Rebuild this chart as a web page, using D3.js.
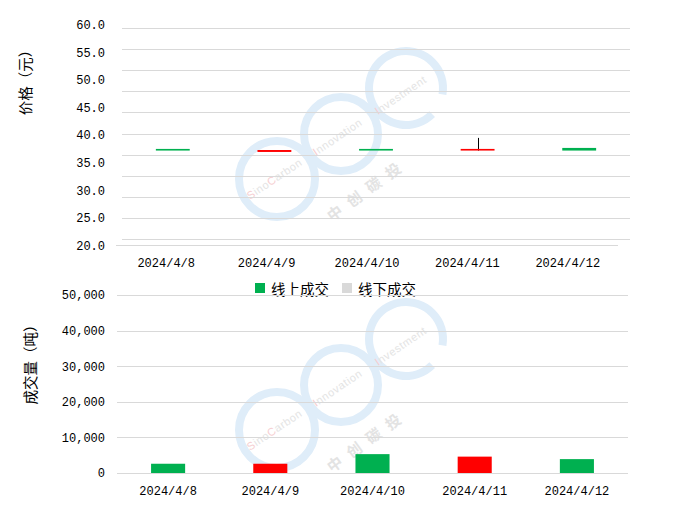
<!DOCTYPE html>
<html><head><meta charset="utf-8">
<script src="https://cdn.jsdelivr.net/npm/d3@7/dist/d3.min.js"></script>
<style>
html,body{margin:0;padding:0;background:#fff;}
svg{display:block;}
</style></head>
<body>
<svg id="chart" width="678" height="511"></svg>
<script>
// ---- data ----
const dates = ["2024/4/8", "2024/4/9", "2024/4/10", "2024/4/11", "2024/4/12"];
const openPrice  = [37.5, 36.95, 37.5, 37.2, 37.68];
const closePrice = [37.2, 37.3, 37.2, 37.5, 37.2];
const highPrice  = [37.5, 37.3, 37.5, 39.5, 37.68];
const lowPrice   = [37.2, 36.95, 37.2, 37.2, 37.2];
const volume     = [2600, 2600, 5300, 4600, 3900];
const priceTicks = [20, 25, 30, 35, 40, 45, 50, 55, 60];
const volumeTicks = [0, 10000, 20000, 30000, 40000, 50000];
const legendLabels = ["线上成交", "线下成交"];
const priceTitle = "价格（元）";
const volumeTitle = "成交量（吨）";

// ---- styles ----
const GREEN = "#00b050", RED = "#ff0000", GRID = "#d9d9d9", LEG_GREY = "#d9d9d9";
const MONO = "'Liberation Mono', 'DejaVu Sans Mono', monospace";
const CJK = "'Noto Sans CJK SC', sans-serif";

const svg = d3.select("#chart");
svg.append("rect").attr("width", 678).attr("height", 511).attr("fill", "#fff");

// ---- watermark ----
function watermark(dy) {
  const g = svg.append("g").attr("transform", `translate(0,${dy})`);
  const ring = "#dfedf9";
  g.append("circle").attr("cx", 277).attr("cy", 179).attr("r", 38)
    .attr("fill", "none").attr("stroke", ring).attr("stroke-width", 8);
  g.append("circle").attr("cx", 341).attr("cy", 134).attr("r", 37)
    .attr("fill", "none").attr("stroke", ring).attr("stroke-width", 8);
  const arc = d3.arc().innerRadius(33).outerRadius(41)
    .startAngle(135 * Math.PI / 180).endAngle((100 + 360) * Math.PI / 180);
  g.append("path").attr("d", arc()).attr("transform", "translate(406,88)").attr("fill", ring);
  const wt = (txt, x, y, first) => {
    const t = g.append("text").attr("transform", `translate(${x},${y}) rotate(-34)`)
      .attr("font-family", "'Liberation Sans', Arial, sans-serif").attr("font-size", 11)
      .attr("letter-spacing", 0.6).attr("fill", "#e4e4e4");
    t.append("tspan").attr("fill", "#f6cfd2").text(txt[0]);
    if (first) {
      t.append("tspan").text(txt.slice(1, first));
      t.append("tspan").attr("fill", "#f6cfd2").text(txt[first]);
      t.append("tspan").text(txt.slice(first + 1));
    } else {
      t.append("tspan").text(txt.slice(1));
    }
  };
  wt("SinoCarbon", 250, 200, 4);
  wt("Innovation", 316, 156, 0);
  wt("Investment", 378, 115, 0);
  g.append("text").attr("transform", "translate(332,222) rotate(-36)")
    .attr("font-family", CJK).attr("font-size", 15).attr("font-weight", 700)
    .attr("letter-spacing", 9).attr("fill", "#e3e3e3").text("中创碳投");
}
watermark(0);
watermark(251);

// ================= PRICE CHART =================
const xCandle = d3.scaleBand().domain(dates).range([122, 630]).paddingInner(2 / 3).paddingOuter(1 / 3);
const xTopAxis = d3.scaleBand().domain(dates).range([116, 618]);
const yPrice = d3.scaleLinear().domain([20, 60]).range([245.3, 25]);
const gridTop = d3.scaleLinear().domain([0, 10]).range([238.7, 28.3]);

// gridlines
svg.append("g").selectAll("line").data(d3.range(11)).join("line")
  .attr("x1", 122).attr("x2", 630)
  .attr("y1", d => Math.round(gridTop(d)) + 0.5).attr("y2", d => Math.round(gridTop(d)) + 0.5)
  .attr("stroke", GRID).attr("stroke-width", 1);

// y axis labels
const yAxisTop = svg.append("g").attr("transform", "translate(105,0)")
  .call(d3.axisLeft(yPrice).tickValues(priceTicks).tickFormat(d3.format(".1f")).tickSize(0).tickPadding(0));
yAxisTop.select(".domain").remove();
yAxisTop.selectAll("text").attr("font-family", MONO).attr("font-size", 12).attr("fill", "#000");

// x axis
const xAxisTopG = svg.append("g").attr("transform", "translate(0,245.5)")
  .call(d3.axisBottom(xTopAxis).tickSize(0).tickPadding(13));
xAxisTopG.select(".domain").attr("stroke", GRID).attr("d", "M116,0H618");
xAxisTopG.selectAll("text").attr("font-family", MONO).attr("font-size", 12).attr("fill", "#000");

// candles
const idx = d3.range(dates.length);
const cg = svg.append("g");
cg.selectAll("line.wick").data(idx.filter(i => highPrice[i] > Math.max(openPrice[i], closePrice[i]) || lowPrice[i] < Math.min(openPrice[i], closePrice[i])))
  .join("line").attr("class", "wick")
  .attr("x1", i => Math.round(xCandle(dates[i]) + xCandle.bandwidth() / 2) + 0.5)
  .attr("x2", i => Math.round(xCandle(dates[i]) + xCandle.bandwidth() / 2) + 0.5)
  .attr("y1", i => yPrice(highPrice[i])).attr("y2", i => yPrice(lowPrice[i]))
  .attr("stroke", "#000").attr("stroke-width", 1);
cg.selectAll("rect").data(idx).join("rect")
  .attr("x", i => xCandle(dates[i]))
  .attr("width", xCandle.bandwidth())
  .attr("y", i => yPrice(Math.max(openPrice[i], closePrice[i])))
  .attr("height", i => Math.max(1.5, Math.abs(yPrice(openPrice[i]) - yPrice(closePrice[i]))))
  .attr("fill", i => closePrice[i] > openPrice[i] ? RED : GREEN);

// title
svg.append("text").attr("transform", "translate(24,79) rotate(-90)")
  .attr("text-anchor", "middle").attr("dominant-baseline", "central")
  .attr("font-family", CJK).attr("font-size", 14.5).attr("fill", "#000").text(priceTitle);

// ================= LEGEND =================
const legendColors = [GREEN, LEG_GREY];
const legendX = [255, 342];
const lg = svg.append("g");
legendLabels.forEach((lab, i) => {
  lg.append("rect").attr("x", legendX[i]).attr("y", 283).attr("width", 10).attr("height", 10).attr("fill", legendColors[i]);
  lg.append("text").attr("x", legendX[i] + 16).attr("y", 288).attr("dominant-baseline", "central")
    .attr("font-family", CJK).attr("font-size", 14.5).attr("fill", "#000").text(lab);
});

// ================= VOLUME CHART =================
const xVol = d3.scaleBand().domain(dates).range([117, 628]).paddingInner(2 / 3).paddingOuter(1 / 3);
const xVolAxis = d3.scaleBand().domain(dates).range([117, 628]);
const yVol = d3.scaleLinear().domain([0, 50000]).range([473, 295]);

svg.append("g").selectAll("line").data(volumeTicks).join("line")
  .attr("x1", 117).attr("x2", 628)
  .attr("y1", d => Math.round(yVol(d)) + 0.5).attr("y2", d => Math.round(yVol(d)) + 0.5)
  .attr("stroke", GRID).attr("stroke-width", 1);

const yAxisBot = svg.append("g").attr("transform", "translate(105,0)")
  .call(d3.axisLeft(yVol).tickValues(volumeTicks).tickFormat(d3.format(",")).tickSize(0).tickPadding(0));
yAxisBot.select(".domain").remove();
yAxisBot.selectAll("text").attr("font-family", MONO).attr("font-size", 12).attr("fill", "#000");

svg.append("g").selectAll("rect").data(idx).join("rect")
  .attr("x", i => xVol(dates[i]))
  .attr("width", xVol.bandwidth())
  .attr("y", i => yVol(volume[i]))
  .attr("height", i => yVol(0) - yVol(volume[i]))
  .attr("fill", i => closePrice[i] > openPrice[i] ? RED : GREEN);

const xAxisBotG = svg.append("g").attr("transform", "translate(0,473.5)")
  .call(d3.axisBottom(xVolAxis).tickSize(0).tickPadding(13));
xAxisBotG.select(".domain").remove();
xAxisBotG.selectAll("text").attr("font-family", MONO).attr("font-size", 12).attr("fill", "#000");

svg.append("text").attr("transform", "translate(29,361) rotate(-90)")
  .attr("text-anchor", "middle").attr("dominant-baseline", "central")
  .attr("font-family", CJK).attr("font-size", 14.5).attr("fill", "#000").text(volumeTitle);
</script>
</body></html>
